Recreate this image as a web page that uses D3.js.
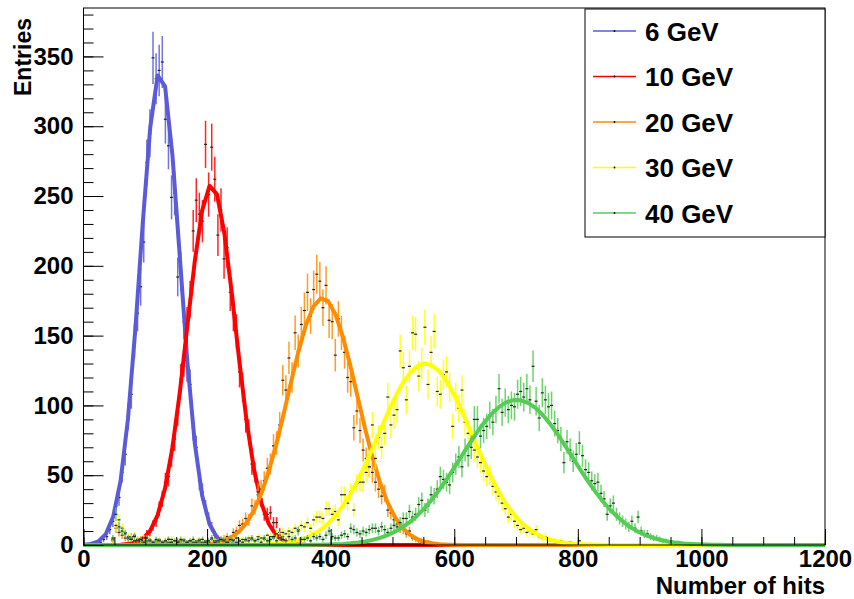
<!DOCTYPE html>
<html>
<head>
<meta charset="utf-8">
<script src="https://cdn.jsdelivr.net/npm/d3@7"></script>
<style>
  body { margin: 0; background: #fff; }
  text { font-family: "Liberation Sans", Arial, Helvetica, sans-serif; font-weight: bold; }
</style>
</head>
<body>
<svg id="chart" width="854" height="599"></svg>
<script>
// histogram bin width (Number of hits)
var binWidth = 5;

var seriesNames = ["6 GeV", "10 GeV", "20 GeV", "30 GeV", "40 GeV"];
var seriesColors = ["#5b5bd9", "#ff0000", "#ff8c00", "#ffff00", "#55cc55"];

// bin contents, first bin starts at startN
var start6 = 25;
var counts6 = [2, 4, 6, 11, 17, 28, 34, 52, 65, 92, 108, 146, 166, 185, 217, 274, 295, 349, 334, 340,
  346, 305, 286, 249, 252, 192, 196, 160, 128, 115, 84, 70, 46, 38, 27, 19, 13, 7, 5, 3, 2, 1];

var start10 = 75;
var counts10 = [1, 0, 3, 4, 5, 8, 9, 14, 17, 26, 33, 45, 49, 64, 76, 95, 119, 132, 158, 176,
  225, 247, 237, 232, 287, 251, 285, 262, 222, 240, 205, 213, 181, 166, 153, 124, 113, 90, 81, 58,
  52, 36, 33, 22, 22, 23, 16, 16, 9, 6, 3, 2, 1];

var start20 = 45;
var counts20 = [3, 12, 9, 7, 5, 4, 6, 3, 4, 2, 3, 2, 3, 1, 2, 3, 1, 2, 4, 2, 1, 3, 2, 1, 2, 3, 2, 1, 2, 1, 2,
  2, 1, 3, 2, 4, 5, 6, 5, 9, 10, 14, 15, 19, 18, 28, 27, 38, 40, 46, 55,
  58, 71, 73, 86, 118, 111, 134, 120, 152, 139, 158, 168, 181, 164, 183, 194, 189, 170, 186, 161,
  160, 136, 162, 152, 138, 120, 117, 84, 96, 82, 68, 62, 56, 52, 45, 40, 35, 37, 25, 23,
  18, 15, 12, 11, 8, 10, 5, 4, 3, 2, 1, 2, 1];

var start30 = 45;
var counts30 = [4, 14, 18, 12, 9, 6, 5, 7, 4, 3, 5,
  3, 4, 2, 3, 4, 2, 3, 2, 4, 3, 2, 3, 4, 2, 3, 2, 3, 4, 2, 3,
  2, 4, 3, 2, 3, 4, 2, 3, 4, 2, 3, 4, 3, 5, 4, 3, 6, 5, 4, 7,
  6, 5, 8, 7, 9, 8, 10, 9, 12, 11, 14, 13, 16, 12, 18, 20, 20, 19, 26, 26,
  22, 24, 18, 36, 36, 30, 38, 25, 44, 45, 45, 52, 56, 86, 62, 77, 70, 80, 106, 86,
  93, 97, 139, 127, 104, 128, 152, 151, 121, 130, 156, 115, 138, 153, 110, 108, 122, 124, 113, 85,
  106, 98, 111, 88, 80, 76, 68, 63, 59, 53, 49, 50, 42, 38, 35, 30, 26, 20, 22, 17,
  14, 11, 12, 9, 10, 8, 11, 6, 5, 6, 4, 3, 3, 2, 3, 2, 1, 2, 1, 0,
  3, 1, 1, 0, 1, 0, 1];

var start40 = 45;
var counts40 = [5, 22, 13, 10, 8, 5, 4, 6, 3, 4, 2,
  5, 3, 2, 4, 3, 2, 3, 4, 2, 3, 2, 4, 3, 2, 3, 4, 2, 3, 4, 2,
  3, 5, 2, 3, 4, 3, 2, 4, 3, 5, 3, 2, 4, 3, 5, 3, 4, 2, 5, 3,
  4, 6, 3, 5, 4, 3, 6, 4, 5, 10, 4, 4, 5, 3, 6, 5, 6, 4, 7, 10,
  6, 5, 5, 7, 8, 6, 12, 11, 9, 8, 10, 9, 11, 12, 12, 10, 13, 11, 9, 12,
  14, 13, 16, 19, 19, 24, 20, 22, 29, 32, 25, 28, 36, 35, 40, 49, 47, 45, 43, 52,
  58, 63, 56, 68, 64, 70, 90, 90, 78, 82, 85, 93, 88, 97, 112, 95, 102, 97, 100, 99,
  108, 110, 106, 112, 104, 128, 103, 91, 109, 104, 99, 100, 87, 82, 76, 59, 74, 68, 60, 65,
  73, 64, 54, 52, 46, 44, 45, 37, 33, 22, 28, 30, 22, 19, 17, 15, 13, 17, 12, 20,
  10, 8, 8, 6, 5, 5, 4, 3, 3, 2, 2, 1, 2, 1, 1, 0, 1];

// gaussian fit parameters (constant, mean, sigma)
var fitConst = [339, 258, 177, 130, 104];
var fitMean = [124, 207, 387, 553, 701];
var fitSigma = [32, 39, 56, 76, 90];

var xMajorTicks = [0, 200, 400, 600, 800, 1000, 1200];
var yMajorTicks = [0, 50, 100, 150, 200, 250, 300, 350];

var starts = [start6, start10, start20, start30, start40];
var counts = [counts6, counts10, counts20, counts30, counts40];

var svg = d3.select("#chart");
var frame = { left: 83.5, right: 825, top: 8, bottom: 545 };

var x = d3.scaleLinear().domain([0, 1200]).range([frame.left, frame.right]);
var y = d3.scaleLinear().domain([0, 384.7]).range([frame.bottom, frame.top]);

// frame
svg.append("rect")
  .attr("x", frame.left).attr("y", frame.top)
  .attr("width", frame.right - frame.left)
  .attr("height", frame.bottom - frame.top)
  .attr("fill", "white");

var plot = svg.append("g");

// histograms and fits, drawn in order like ROOT "same"
var fitLine = d3.line()
  .x(function (d) { return x(d[0]); })
  .y(function (d) { return y(d[1]); });

for (let s = 0; s < counts.length; s++) {
  var pts = counts[s].map(function (n, i) {
    return { x: starts[s] + binWidth * (i + 0.5), n: n };
  }).filter(function (d) { return d.n > 0; });

  var g = plot.append("g");
  g.selectAll("line.err")
    .data(pts)
    .enter()
    .append("line")
    .attr("class", "err")
    .attr("x1", function (d) { return x(d.x); })
    .attr("x2", function (d) { return x(d.x); })
    .attr("y1", function (d) { return y(d.n - Math.sqrt(d.n)); })
    .attr("y2", function (d) { return y(d.n + Math.sqrt(d.n)); })
    .attr("stroke", seriesColors[s])
    .attr("stroke-width", 1.5)
    .attr("opacity", 0.85);
  g.selectAll("line.mk")
    .data(pts)
    .enter()
    .append("line")
    .attr("class", "mk")
    .attr("x1", function (d) { return x(d.x) - 1.5; })
    .attr("x2", function (d) { return x(d.x) + 1.5; })
    .attr("y1", function (d) { return y(d.n); })
    .attr("y2", function (d) { return y(d.n); })
    .attr("stroke", "#222")
    .attr("stroke-width", 1.2);

  // fitted gaussian, sampled with 100 points over the axis range
  var fitPts = d3.range(0, 101).map(function (k) {
    var xv = 12 * k;
    var z = (xv - fitMean[s]) / fitSigma[s];
    return [xv, fitConst[s] * Math.exp(-0.5 * z * z)];
  });
  g.append("path")
    .datum(fitPts)
    .attr("fill", "none")
    .attr("stroke", seriesColors[s])
    .attr("stroke-width", 4)
    .attr("stroke-linejoin", "round")
    .attr("d", fitLine);
}

// frame outline
svg.append("rect")
  .attr("x", frame.left).attr("y", frame.top)
  .attr("width", frame.right - frame.left)
  .attr("height", frame.bottom - frame.top)
  .attr("fill", "none")
  .attr("stroke", "black")
  .attr("stroke-width", 1);

// axes with ticks pointing inside the frame
var xMinor = d3.axisBottom(x).tickValues(d3.range(0, 1201, 50)).tickSize(-8).tickFormat("");
var xMajor = d3.axisBottom(x).tickValues(xMajorTicks).tickSizeInner(-16).tickSizeOuter(0)
  .tickPadding(5).tickFormat(d3.format("d"));
var yMinor = d3.axisLeft(y).tickValues(d3.range(0, 381, 10)).tickSize(-10).tickFormat("");
var yMajor = d3.axisLeft(y).tickValues(yMajorTicks).tickSizeInner(-20).tickSizeOuter(0)
  .tickPadding(10).tickFormat(d3.format("d"));

[xMinor, xMajor].forEach(function (ax) {
  svg.append("g").attr("transform", "translate(0," + frame.bottom + ")").call(ax);
});
[yMinor, yMajor].forEach(function (ax) {
  svg.append("g").attr("transform", "translate(" + frame.left + ",0)").call(ax);
});
svg.selectAll(".domain").remove();
svg.selectAll(".tick line").attr("stroke", "black").attr("stroke-width", 1);
svg.selectAll(".tick text")
  .attr("fill", "black")
  .style("font-size", "24px")
  .style("font-family", '"Liberation Sans", Arial, sans-serif')
  .style("font-weight", "bold");

// axis titles
svg.append("text")
  .attr("x", frame.right)
  .attr("y", 594)
  .attr("text-anchor", "end")
  .style("font-size", "24px")
  .text("Number of hits");
svg.append("text")
  .attr("transform", "translate(31,18) rotate(-90)")
  .attr("text-anchor", "end")
  .style("font-size", "23px")
  .text("Entries");

// legend
var legend = svg.append("g");
legend.append("rect")
  .attr("x", 585).attr("y", 9)
  .attr("width", 240).attr("height", 228)
  .attr("fill", "white")
  .attr("stroke", "black")
  .attr("stroke-width", 1);

var rowY = d3.scalePoint().domain(seriesNames).range([31, 213]);
seriesNames.forEach(function (name, i) {
  var yy = rowY(name);
  legend.append("line")
    .attr("x1", 593).attr("x2", 636)
    .attr("y1", yy).attr("y2", yy)
    .attr("stroke", seriesColors[i])
    .attr("stroke-width", 1.5);
  legend.append("circle")
    .attr("cx", 614.5).attr("cy", yy).attr("r", 0.9)
    .attr("fill", "black");
  legend.append("text")
    .attr("x", 645).attr("y", yy + 9.5)
    .style("font-size", "26px")
    .text(name);
});
</script>
</body>
</html>
